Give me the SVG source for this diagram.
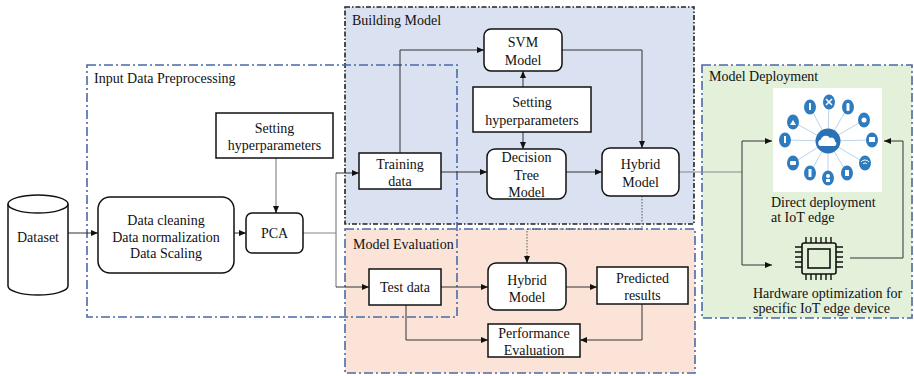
<svg xmlns="http://www.w3.org/2000/svg" width="914" height="376" viewBox="0 0 914 376" font-family="'Liberation Serif', 'DejaVu Serif', serif">
  <style>
    text { font-family: "Liberation Serif", "DejaVu Serif", serif; font-size: 14px; fill: #111; }
    .c { text-anchor: middle; }
    .box { fill: #fff; stroke: #111; stroke-width: 1.5; }
    .ln { fill: none; stroke: #333; stroke-width: 1; }
    .lg { fill: none; stroke: #888; stroke-width: 1.2; }
    .dot { fill: none; stroke: #555; stroke-width: 1; stroke-dasharray: 1.5 1.5; }
    .regb { fill: none; stroke: #4a6aa8; stroke-width: 1.6; stroke-dasharray: 9 3 2 3; }
    .regk { fill: none; stroke: #222; stroke-width: 1.6; stroke-dasharray: 5 2 1.5 2; }
    .ico { fill: #2f7bbf; }
    .spk { stroke: #a8c8e6; stroke-width: 0.8; }
    .pin { stroke: #111; stroke-width: 1.4; }
  </style>
  <defs>
    <marker id="arr" markerUnits="userSpaceOnUse" markerWidth="7" markerHeight="6" refX="7" refY="3" orient="auto">
      <path d="M0,0 L7,3 L0,6 z" fill="#111"/>
    </marker>
  </defs>

  <!-- region backgrounds -->
  <g id="regions">
    <rect x="345" y="7" width="349" height="217" fill="#dae1f1"/>
    <rect x="345" y="229" width="350" height="144" fill="#fbe4d7"/>
    <rect x="702" y="65" width="210" height="253" fill="#e3f0da"/>
    <rect class="regk" x="345" y="7" width="349" height="217"/>
    <rect class="regb" x="345" y="229" width="350" height="144"/>
    <rect class="regb" x="702" y="65" width="210" height="253"/>
    <rect class="regb" x="87" y="65" width="370" height="252"/>
    <text x="94" y="83">Input Data Preprocessing</text>
    <text x="352" y="25">Building Model</text>
    <text x="353" y="249">Model Evaluation</text>
    <text x="709" y="81">Model Deployment</text>
  </g>

  <!-- connectors -->
  <g id="connectors">
    <path class="ln" d="M68,233 H98" marker-end="url(#arr)"/>
    <path class="ln" d="M234,233 H246" marker-end="url(#arr)"/>
    <path class="lg" d="M276,158 V213"/>
    <path class="ln" d="M276,206 V213" marker-end="url(#arr)"/>
    <path class="lg" d="M303,233 H336 M336,173 V287"/>
    <path class="ln" d="M336,173 H359" marker-end="url(#arr)"/>
    <path class="ln" d="M336,287 H369" marker-end="url(#arr)"/>
    <path class="ln" d="M400,153 V50 H484" marker-end="url(#arr)"/>
    <path class="ln" d="M523,87 V71" marker-end="url(#arr)"/>
    <path class="ln" d="M523,132 V149" marker-end="url(#arr)"/>
    <path class="ln" d="M441,172 H487" marker-end="url(#arr)"/>
    <path class="ln" d="M566,172 H602" marker-end="url(#arr)"/>
    <path class="ln" d="M562,50 H642 V148" marker-end="url(#arr)"/>
    <path class="dot" d="M642,196 V229 H527 V257"/>
    <path class="ln" d="M527,256 V263" marker-end="url(#arr)"/>
    <path class="lg" d="M679,172 H742"/>
    <path class="ln" d="M742,172 V265 M742,172 V141"/>
    <path class="ln" d="M742,141 H772" marker-end="url(#arr)"/>
    <path class="ln" d="M742,265 H772" marker-end="url(#arr)"/>
    <path class="ln" d="M850,258 H903 V141 H884" marker-end="url(#arr)"/>
    <path class="ln" d="M441,287 H488" marker-end="url(#arr)"/>
    <path class="ln" d="M566,287 H597" marker-end="url(#arr)"/>
    <path class="ln" d="M406,305 V340 H488" marker-end="url(#arr)"/>
    <path class="ln" d="M642,304 V340 H580" marker-end="url(#arr)"/>
  </g>

  <g id="dataset">
    <path class="box" d="M8,204 A30,9 0 0 1 68,204 V286 A30,9 0 0 1 8,286 Z"/>
    <path class="box" d="M8,204 A30,9 0 0 0 68,204" fill="none"/>
    <text class="c" x="38" y="242">Dataset</text>
  </g>

  <g id="cleaning">
    <rect class="box" x="98" y="197" width="136" height="76" rx="12"/>
    <text class="c" x="166" y="225">Data cleaning</text>
    <text class="c" x="166" y="242">Data normalization</text>
    <text class="c" x="166" y="258">Data Scaling</text>
  </g>

  <g id="pca">
    <rect class="box" x="246" y="213" width="57" height="40" rx="6"/>
    <text class="c" x="274.5" y="238">PCA</text>
  </g>

  <g id="hyper-pca">
    <rect class="box" x="216" y="113" width="117" height="45"/>
    <text class="c" x="274.5" y="133">Setting</text>
    <text class="c" x="274.5" y="150">hyperparameters</text>
  </g>

  <g id="training">
    <rect class="box" x="359" y="153" width="82" height="36"/>
    <text class="c" x="400" y="169">Training</text>
    <text class="c" x="400" y="186">data</text>
  </g>

  <g id="svm">
    <rect class="box" x="484" y="29" width="78" height="42" rx="7"/>
    <text class="c" x="523" y="47">SVM</text>
    <text class="c" x="523" y="65">Model</text>
  </g>

  <g id="hyper-models">
    <rect class="box" x="473" y="87" width="118" height="45"/>
    <text class="c" x="532" y="107">Setting</text>
    <text class="c" x="532" y="125">hyperparameters</text>
  </g>

  <g id="decision-tree">
    <rect class="box" x="487" y="149" width="79" height="50" rx="8"/>
    <text class="c" x="526.5" y="162">Decision</text>
    <text class="c" x="526.5" y="180">Tree</text>
    <text class="c" x="526.5" y="197">Model</text>
  </g>

  <g id="hybrid-build">
    <rect class="box" x="602" y="148" width="77" height="48" rx="8"/>
    <text class="c" x="640.5" y="169">Hybrid</text>
    <text class="c" x="640.5" y="187">Model</text>
  </g>

  <g id="test">
    <rect class="box" x="369" y="269" width="72" height="36"/>
    <text class="c" x="405" y="292">Test data</text>
  </g>

  <g id="hybrid-eval">
    <rect class="box" x="488" y="263" width="78" height="47" rx="8"/>
    <text class="c" x="527" y="285">Hybrid</text>
    <text class="c" x="527" y="302">Model</text>
  </g>

  <g id="predicted">
    <rect class="box" x="597" y="267" width="91" height="37"/>
    <text class="c" x="642.5" y="283">Predicted</text>
    <text class="c" x="642.5" y="300">results</text>
  </g>

  <g id="performance">
    <rect class="box" x="488" y="324" width="92" height="33"/>
    <text class="c" x="534" y="338">Performance</text>
    <text class="c" x="534" y="355">Evaluation</text>
  </g>

  <!-- cloud hub with connected edge devices -->
  <g id="iot-edge">
    <rect x="773" y="88" width="109" height="104" fill="#fff"/>
    <g class="spk">
      <line x1="828" y1="141" x2="810" y2="107"/>
      <line x1="828" y1="141" x2="829" y2="102"/>
      <line x1="828" y1="141" x2="848" y2="107"/>
      <line x1="828" y1="141" x2="864" y2="120"/>
      <line x1="828" y1="141" x2="872" y2="140"/>
      <line x1="828" y1="141" x2="865" y2="163"/>
      <line x1="828" y1="141" x2="847" y2="173"/>
      <line x1="828" y1="141" x2="828" y2="178"/>
      <line x1="828" y1="141" x2="810" y2="173"/>
      <line x1="828" y1="141" x2="793" y2="163"/>
      <line x1="828" y1="141" x2="785" y2="140"/>
      <line x1="828" y1="141" x2="793" y2="122"/>
    </g>
    <circle cx="828" cy="141" r="12.5" fill="#2a72b5"/>
    <path d="M820,146 a3.5,3.5 0 0 1 1,-6.5 a5,5 0 0 1 9,-1.5 a3.5,3.5 0 0 1 5,3.5 a2.5,2.5 0 0 1 0,4.5 z" fill="#fff"/>
    <g class="ico">
      <ellipse cx="810" cy="107" rx="6" ry="7.5"/>
      <ellipse cx="829" cy="102" rx="6" ry="7.5"/>
      <ellipse cx="848" cy="107" rx="6" ry="7.5"/>
      <ellipse cx="864" cy="120" rx="6" ry="7.5"/>
      <ellipse cx="872" cy="140" rx="6" ry="7.5"/>
      <ellipse cx="865" cy="163" rx="6" ry="7.5"/>
      <ellipse cx="847" cy="173" rx="6" ry="7.5"/>
      <ellipse cx="828" cy="178" rx="6" ry="7.5"/>
      <ellipse cx="810" cy="173" rx="6" ry="7.5"/>
      <ellipse cx="793" cy="163" rx="6" ry="7.5"/>
      <ellipse cx="785" cy="140" rx="6" ry="7.5"/>
      <ellipse cx="793" cy="122" rx="6" ry="7.5"/>
    </g>
    <g fill="#fff">
      <rect x="809" y="103" width="2" height="7"/>
      <path d="M826,99 L832,105 M832,99 L826,105" stroke="#fff" stroke-width="1.5"/>
      <rect x="846.5" y="103" width="3" height="8" rx="1"/>
      <circle cx="864" cy="120" r="2.5"/>
      <rect x="869" y="137" width="6" height="5"/>
      <path d="M861,162 a5,5 0 0 1 8,0 M863,164 a2.5,2.5 0 0 1 4,0" stroke="#fff" stroke-width="1" fill="none"/>
      <rect x="845" y="170" width="4" height="6"/>
      <circle cx="828" cy="176" r="2"/>
      <rect x="826" y="179" width="4" height="3"/>
      <rect x="808.5" y="169" width="3" height="8"/>
      <rect x="790" y="161" width="6" height="4" rx="1"/>
      <rect x="784" y="136" width="2" height="7"/>
      <path d="M790,125 L793,120 L796,125 Z"/>
    </g>
  </g>
  <g id="direct-deploy">
    <text x="771" y="207">Direct deployment</text>
    <text x="771" y="222">at IoT edge</text>
  </g>

  <!-- processor chip -->
  <g id="hardware">
    <rect x="802" y="243" width="34" height="31" rx="2" fill="none" stroke="#111" stroke-width="1.6"/>
    <rect x="808" y="249" width="22" height="19" fill="none" stroke="#111" stroke-width="1.6"/>
    <g class="pin">
      <path d="M806,237 V243 M811,237 V243 M816,237 V243 M821,237 V243 M826,237 V243 M831,237 V243"/>
      <path d="M806,274 V280 M811,274 V280 M816,274 V280 M821,274 V280 M826,274 V280 M831,274 V280"/>
      <path d="M795,247 H802 M795,252 H802 M795,257 H802 M795,262 H802 M795,267 H802"/>
      <path d="M836,247 H843 M836,252 H843 M836,257 H843 M836,262 H843 M836,267 H843"/>
    </g>
    <text x="753" y="298">Hardware optimization for</text>
    <text x="753" y="313">specific IoT edge device</text>
  </g>
</svg>
